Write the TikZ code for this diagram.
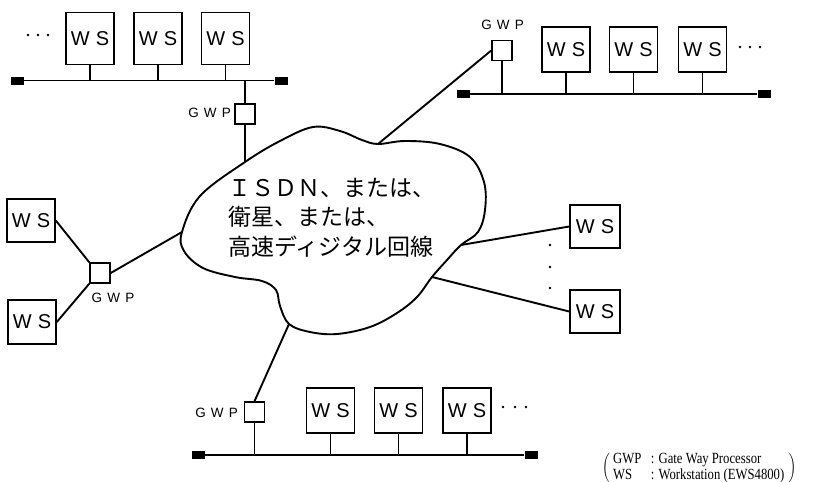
\documentclass[tikz,border=0pt]{standalone}
\usepackage{fontspec}
\setmainfont{Liberation Serif}
\newfontfamily\jpfont{Noto Sans CJK JP}
\newfontfamily\sansf{Liberation Sans}
\newcommand\wstxt{W\kern0.3em S}
\newcommand\gwptxt{G\kern0.38em W\kern0.38em P}
\begin{document}
\begin{tikzpicture}[x=1pt,y=-1pt,
  ws/.style={draw, line width=1.6pt, minimum width=48pt, minimum height=45pt, inner sep=0pt,
    font=\sansf\fontsize{20}{20}\selectfont},
  wstall/.style={ws, minimum height=52pt},
  gwp/.style={draw, line width=1.5pt, minimum width=20pt, minimum height=20pt, inner sep=0pt},
  lbl/.style={font=\sansf\fontsize{13.5}{13.5}\selectfont, inner sep=0pt},
  wire/.style={line width=1.6pt},
  link/.style={line width=1.9pt},
  bus/.style={line width=1.9pt},
  term/.style={fill=black, minimum width=13pt, minimum height=8pt, inner sep=0pt},
  dot/.style={fill=black},
]
\useasboundingbox (0,0) rectangle (815,482);

% ---------- cloud ----------
\coordinate (cL)  at (182,232);
\coordinate (cT)  at (245,162);
\coordinate (cTR) at (378,144);
\coordinate (cR1) at (461,245);
\coordinate (cR2) at (432,277);
\coordinate (cB)  at (289,324);
\draw[line width=1.9pt] plot[smooth cycle, tension=0.6] coordinates {
  (cL) (200,196) (cT) (280,141) (313,127) (340,131) (362,140) (cTR)
  (405,141) (440,144) (470,157) (484,182) (485,210) (478,232) (cR1)
  (447,260) (cR2) (417,297) (397,313) (370,327) (337,334) (310,332) (cB)
  (280,306) (276,290) (262,281) (235,277) (203,268) (184,251)};
\node[font=\jpfont\fontsize{23}{29.5}\selectfont, align=left, anchor=north west, inner sep=0pt]
  (net) at (228,178) {ＩＳＤＮ、または、\\衛星、または、\\高速ディジタル回線};

% ---------- top-left LAN ----------
\node[term] (tlA) at (17,80.5) {};
\node[term] (tlB) at (281,80.5) {};
\draw[bus] (tlA) -- (tlB);
\node[wstall] (w1) at (90,38.5) {\wstxt};
\node[wstall] (w2) at (158,38.5) {\wstxt};
\node[wstall] (w3) at (225.5,38.5) {\wstxt};
\foreach \n in {w1,w2,w3} \draw[wire] (\n.south) -- (\n.south |- tlA);
\foreach \x in {28,38,48} \fill[dot] (\x,35) circle (1.3);
\node[gwp] (g1) at (245,114) {};
\node[lbl, anchor=east] (g1l) at (231,113) {\gwptxt};
\draw[wire] (g1.north) -- (g1.north |- tlA);
\draw[link] (g1.south) -- (cT);

% ---------- top-right LAN ----------
\node[term] (trA) at (463,94) {};
\node[term] (trB) at (764,94) {};
\draw[bus] (trA) -- (trB);
\node[ws] (w4) at (566,49.5) {\wstxt};
\node[ws] (w5) at (633.5,49.5) {\wstxt};
\node[ws] (w6) at (702.5,49.5) {\wstxt};
\foreach \n in {w4,w5,w6} \draw[wire] (\n.south) -- (\n.south |- trA);
\foreach \x in {740,750,760} \fill[dot] (\x,47) circle (1.3);
\node[gwp] (g2) at (502,50.5) {};
\node[lbl] (g2l) at (502.5,25) {\gwptxt};
\draw[wire] (g2.south) -- (g2.south |- trA);
\draw[link] (cTR) -- (g2.west);

% ---------- left ----------
\node[ws, minimum height=43pt] (l1) at (31,220.5) {\wstxt};
\node[ws, minimum height=44pt] (l2) at (32,322) {\wstxt};
\node[gwp] (g3) at (100,273) {};
\node[lbl] (g3l) at (113,298) {\gwptxt};
\draw[link] (l1.east) -- (g3.north west);
\draw[link] (l2.east) -- (g3.south west);
\draw[link] (g3.east) -- (cL);

% ---------- right ----------
\node[ws, minimum height=43pt, minimum width=50pt] (r1) at (595,226.5) {\wstxt};
\node[ws, minimum height=43pt, minimum width=50pt] (r2) at (595,311.5) {\wstxt};
\draw[link] (cR1) -- (r1.west);
\draw[link] (cR2) -- (r2.west);
\foreach \y in {245,267,288} \fill[dot] (550,\y) circle (1.3);

% ---------- bottom LAN ----------
\node[term] (bA) at (198,455) {};
\node[term] (bB) at (531,455) {};
\draw[bus] (bA) -- (bB);
\node[ws] (w7) at (330.5,410.5) {\wstxt};
\node[ws] (w8) at (398.5,410.5) {\wstxt};
\node[ws] (w9) at (467,410.5) {\wstxt};
\foreach \n in {w7,w8,w9} \draw[wire] (\n.south) -- (\n.south |- bA);
\foreach \x in {503,515,526} \fill[dot] (\x,407) circle (1.3);
\node[gwp] (g4) at (254.5,412) {};
\node[lbl, anchor=east] (g4l) at (238,413) {\gwptxt};
\draw[wire] (g4.south) -- (g4.south |- bA);
\draw[link] (cB) -- (g4.north);

% ---------- legend ----------
\node[anchor=west, inner sep=0pt, font=\fontsize{15.5}{16.5}\selectfont] (leg) at (602,468)
  {$\left(\hspace{3pt}\scalebox{0.82}[1]{\begin{tabular}{@{}l@{}}
   \makebox[46pt][l]{GWP}: Gate Way Processor\\
   \makebox[46pt][l]{WS}: Workstation (EWS4800)
   \end{tabular}}\hspace{4pt}\right)$};
\end{tikzpicture}
\end{document}
